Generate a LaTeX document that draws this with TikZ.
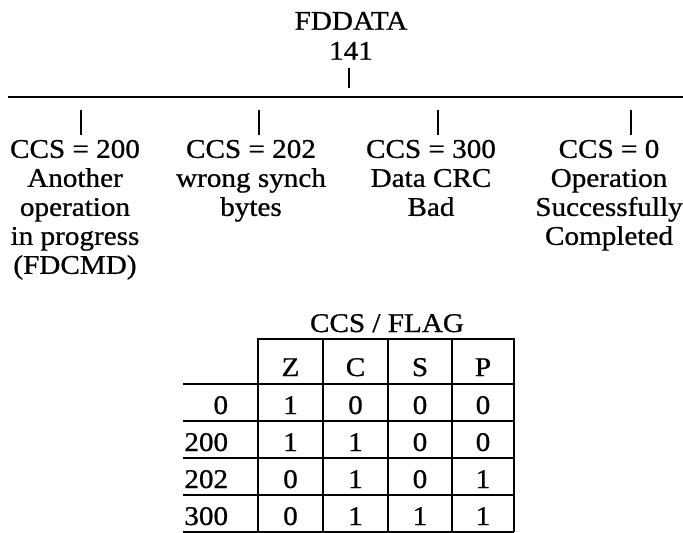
\documentclass[tikz,border=0pt]{standalone}
\usepackage{fontspec}
\setmainfont{Liberation Serif}[FakeStretch=1.08,FakeBold=0.8]
\begin{document}
\begin{tikzpicture}
  [x=1pt, y=-1pt, line width=1.8pt,
   ccstext/.style={font=\fontsize{27}{29}\selectfont, inner sep=0pt, align=center, anchor=north},
   cell/.style={font=\fontsize{27}{29}\selectfont, inner sep=0pt, anchor=base}]
  \useasboundingbox (0,0) rectangle (683,533);
  % tree part
  \node [ccstext, font=\fontsize{27}{30}\selectfont] (fddata) at (351,11) {FDDATA\\141};
  \coordinate (busleft) at (8,97);
  \coordinate (busright) at (683,97);
  \draw (busleft) -- (busright);
  \coordinate (b0) at (349,97);
  \draw ([yshift=9pt]b0) -- ([yshift=29pt]b0);
  \node [ccstext] (ccs200) at (75,139) {CCS = 200\\Another\\operation\\in progress\\(FDCMD)};
  \node [ccstext] (ccs202) at (251,139) {CCS = 202\\wrong synch\\bytes};
  \node [ccstext] (ccs300) at (431,139) {CCS = 300\\Data CRC\\Bad};
  \node [ccstext] (ccs0) at (609,139) {CCS = 0\\Operation\\Successfully\\Completed};
  \foreach \n/\x in {1/81, 2/259, 3/438, 4/631}
    {\coordinate (b\n) at (\x,97);
     \draw ([yshift=-13pt]b\n) -- ([yshift=-38pt]b\n);}
  % flag table
  \node [cell] (flagtitle) at (387,332) {CCS / FLAG};
  \draw (258,532) -- (258,339) -- (514,339) -- (514,532);
  \foreach \x in {323, 388, 452}
    \draw (\x,339) -- (\x,532);
  \foreach \y in {384, 421, 458, 495, 532}
    \draw (183,\y) -- (514,\y);
  \foreach \f/\x in {Z/290.5, C/355.5, S/420, P/483}
    \node [cell] (head\f) at (\x,376) {\f};
  \foreach \ccs/\z/\c/\s/\p [count=\r] in {0/1/0/0/0, 200/1/1/0/0, 202/0/1/0/1, 300/0/1/1/1}
    {\pgfmathsetmacro\ry{384+37*(\r-1)+30}
     \node [cell, anchor=base east] (row\r) at (229,\ry) {\ccs};
     \node [cell] (z\r) at (290.5,\ry) {\z};
     \node [cell] (c\r) at (355.5,\ry) {\c};
     \node [cell] (s\r) at (420,\ry) {\s};
     \node [cell] (p\r) at (483,\ry) {\p};}
\end{tikzpicture}
\end{document}
